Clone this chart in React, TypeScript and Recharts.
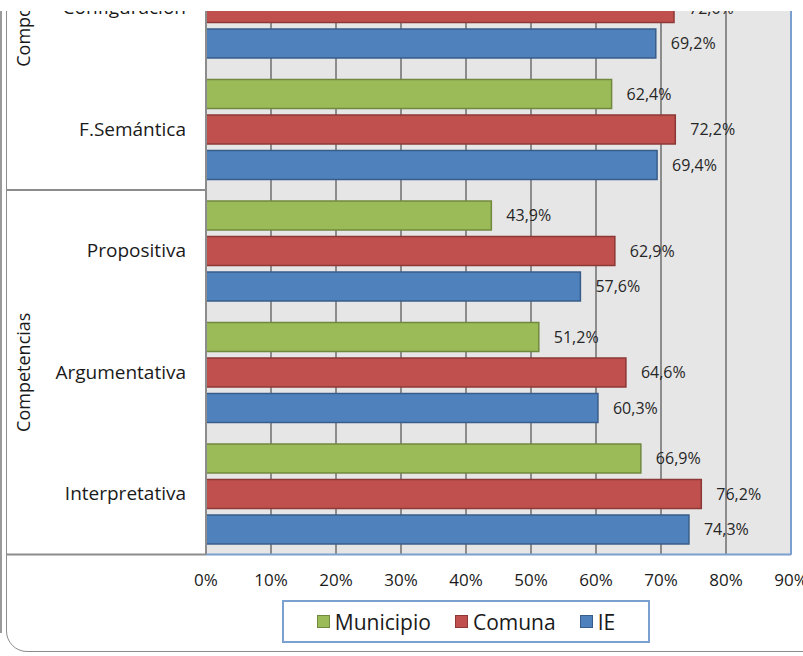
import { BarChart, Bar, XAxis, YAxis, CartesianGrid, LabelList, Legend, ReferenceLine } from "recharts";

// categories top to bottom (top group is cropped in the picture)
const categories = ["Configuración", "F.Semántica", "Propositiva", "Argumentativa", "Interpretativa"];
const municipio = [60.5, 62.4, 43.9, 51.2, 66.9]; // first value hidden above the crop, estimated
const comuna = [72.0, 72.2, 62.9, 64.6, 76.2];
const ie = [69.2, 69.4, 57.6, 60.3, 74.3];
const xTicks = [0, 10, 20, 30, 40, 50, 60, 70, 80, 90];

// group label sits on the middle category; group starts / ends on a category
const groupMid: Record<string, string> = { "Configuración": "Componentes", "Argumentativa": "Competencias" };
const groupStart = ["Propositiva"];
const groupEnd = ["Interpretativa"];

const series = [
  { key: "Municipio", fill: "#9bbb59", stroke: "#71893f" },
  { key: "Comuna", fill: "#c0504d", stroke: "#8c3836" },
  { key: "IE", fill: "#4f81bd", stroke: "#385d8a" },
];

const data = categories.map((name, i) => ({
  name,
  Municipio: municipio[i],
  Comuna: comuna[i],
  IE: ie[i],
}));

const FONT = "'Open Sans', sans-serif";
const fmt = (v: number) => `${v.toFixed(1).replace(".", ",")}%`;

const CategoryTick = (props: any) => {
  const { x, y, payload } = props;
  const half = payload.offset ?? 0;
  const name = payload.value as string;
  return (
    <g>
      <text x={x} y={y} dy="0.355em" textAnchor="end" fontSize={19} fontFamily={FONT} fill="#1a1a1a">
        {name}
      </text>
      {groupMid[name] && (
        <text
          x={24}
          y={y}
          dy="0.355em"
          textAnchor="middle"
          fontSize={18}
          fontFamily={FONT}
          fill="#1a1a1a"
          transform={`rotate(-90, 24, ${y})`}
        >
          {groupMid[name]}
        </text>
      )}
      {groupStart.includes(name) && (
        <line x1={7} x2={206} y1={y - half} y2={y - half} stroke="#8c8c8c" strokeWidth={2} />
      )}
      {groupEnd.includes(name) && (
        <line x1={7} x2={206} y1={y + half} y2={y + half} stroke="#8c8c8c" strokeWidth={2} />
      )}
    </g>
  );
};

const LegendBox = () => (
  <div
    style={{
      boxSizing: "border-box",
      height: 43,
      width: 368,
      border: "2px solid #7aa0d0",
      display: "flex",
      alignItems: "center",
      justifyContent: "center",
      fontFamily: FONT,
      fontSize: 21,
      color: "#1a1a1a",
      background: "#fff",
    }}
  >
    {series.map((s) => (
      <div key={s.key} style={{ display: "flex", alignItems: "center", margin: "0 12px" }}>
        <span
          style={{
            display: "inline-block",
            width: 13,
            height: 13,
            background: s.fill,
            border: `1.5px solid ${s.stroke}`,
            boxSizing: "border-box",
            marginRight: 5,
          }}
        />
        <span>{s.key}</span>
      </div>
    ))}
  </div>
);

export default function App() {
  return (
    <div
      style={{
        position: "absolute",
        left: 0,
        top: 0,
        width: 803,
        height: 656,
        overflow: "hidden",
        background: "#fff",
      }}
    >
      <div style={{ position: "absolute", left: 0, top: 0, width: 2, height: 633, background: "#9a9a9a" }} />
      <div
        style={{
          position: "absolute",
          left: 6,
          top: -100,
          width: 900,
          height: 752,
          boxSizing: "border-box",
          border: "1.5px solid #8c8c8c",
          borderRadius: 21,
        }}
      />
      <div style={{ position: "absolute", left: 0, top: -53.5 }}>
        <BarChart
          width={830}
          height={696.5}
          data={data}
          layout="vertical"
          margin={{ top: 0, right: 39, bottom: 0, left: 0 }}
          barSize={29}
          barGap={6.5}
        >
          <CartesianGrid horizontal={false} stroke="#8c8c8c" strokeWidth={2} fill="#e6e6e6" />
          <XAxis
            type="number"
            domain={[0, 90]}
            ticks={xTicks}
            interval={0}
            height={46}
            tickLine={false}
            tickMargin={13}
            axisLine={{ stroke: "#7aa0d0", strokeWidth: 2 }}
            tickFormatter={(v: number) => `${v}%`}
            tick={{ fontSize: 17, fontFamily: FONT, fill: "#1a1a1a" }}
          />
          <YAxis
            type="category"
            dataKey="name"
            width={206}
            tickLine={false}
            tickMargin={14}
            interval={0}
            axisLine={{ stroke: "#8c8c8c", strokeWidth: 2 }}
            tick={(p: any) => <CategoryTick {...p} />}
          />
          <ReferenceLine x={90} stroke="#7aa0d0" strokeWidth={2} />
          {series.map((s) => (
            <Bar key={s.key} dataKey={s.key} fill={s.fill} stroke={s.stroke} strokeWidth={1.5} isAnimationActive={false}>
              <LabelList
                dataKey={s.key}
                position="right"
                offset={15}
                formatter={(v: any) => fmt(Number(v))}
                style={{ fontSize: 16, fontFamily: FONT, fill: "#262626" }}
              />
            </Bar>
          ))}
          <Legend
            verticalAlign="bottom"
            content={() => <LegendBox />}
            wrapperStyle={{ left: 282, width: 368, height: 43 }}
          />
        </BarChart>
      </div>
      <div style={{ position: "absolute", left: 0, top: 0, width: 803, height: 11, background: "#fff" }} />
    </div>
  );
}
